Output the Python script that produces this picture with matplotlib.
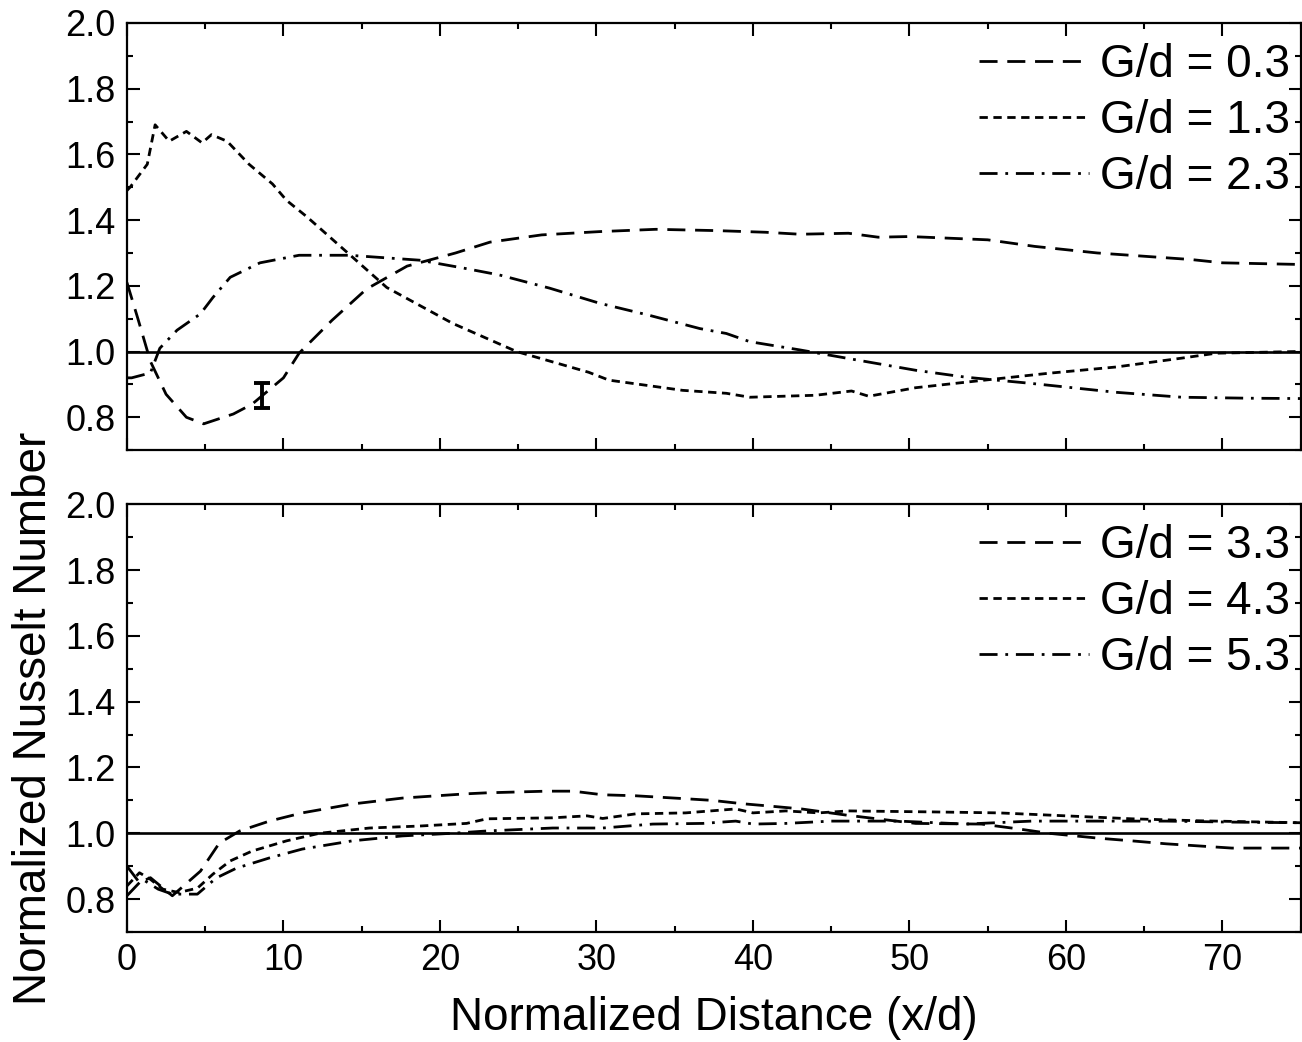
import matplotlib
matplotlib.use("Agg")
import matplotlib.pyplot as plt
from matplotlib.ticker import MultipleLocator

plt.rcParams["font.family"] = ["Liberation Sans", "DejaVu Sans"]

# top panel
x_03 = [0, 0.7, 1.5, 2.5, 3.8, 4.9, 6.8, 8.0, 10.0, 11.0, 13.1, 15.3, 17.9, 21.0, 23.2,
        26.5, 30.2, 33.8, 37.7, 40.8, 43.0, 46.1, 48.0, 50.0, 55.0, 58.0, 62.0, 65.0,
        68.0, 70.0, 75.0]
y_03 = [1.21, 1.10, 0.97, 0.87, 0.80, 0.78, 0.81, 0.84, 0.92, 0.995, 1.095, 1.19, 1.26,
        1.30, 1.333, 1.355, 1.365, 1.372, 1.368, 1.363, 1.357, 1.36, 1.348, 1.35, 1.34,
        1.32, 1.30, 1.29, 1.28, 1.27, 1.265]

x_13 = [0, 0.2, 1.3, 1.8, 2.7, 3.8, 4.8, 5.4, 6.4, 7.8, 9.3, 10.2, 11.5, 13.4, 16.6,
        20.8, 24.9, 29.5, 30.8, 35.5, 38.3, 39.8, 44.0, 46.3, 47.4, 50.4, 54.6, 58.9,
        63.2, 67.4, 69.6, 74.7, 75.0]
y_13 = [1.49, 1.50, 1.57, 1.69, 1.64, 1.67, 1.635, 1.66, 1.64, 1.57, 1.51, 1.46, 1.41,
        1.33, 1.195, 1.086, 1.0, 0.937, 0.913, 0.882, 0.873, 0.861, 0.867, 0.88, 0.864,
        0.89, 0.912, 0.934, 0.953, 0.98, 0.995, 1.0, 1.0]

x_23 = [0, 0.3, 1.5, 2.1, 3.2, 4.7, 5.5, 6.6, 8.5, 11.0, 14.2, 18.7, 21.5, 23.8, 27.0,
        30.2, 33.4, 36.6, 38.3, 39.8, 43.0, 46.8, 50.4, 53.6, 57.8, 63.2, 67.4, 71.7, 75.0]
y_23 = [0.92, 0.92, 0.935, 1.01, 1.065, 1.115, 1.165, 1.226, 1.27, 1.293, 1.293, 1.278,
        1.254, 1.233, 1.193, 1.147, 1.11, 1.07, 1.055, 1.03, 1.005, 0.973, 0.943, 0.922,
        0.903, 0.876, 0.861, 0.858, 0.857]

# bottom panel
x_33 = [0, 0.8, 1.5, 2.9, 4.7, 5.9, 7.2, 9.1, 11.2, 14.4, 17.6, 21.7, 23.0, 26.8, 28.5,
        30.4, 32.5, 35.7, 37.4, 39.3, 41.0, 43.1, 46.0, 50.4, 54.6, 57.0, 58.9, 62.1,
        64.2, 66.4, 70.6, 75.0]
y_33 = [0.90, 0.85, 0.865, 0.81, 0.885, 0.97, 1.007, 1.037, 1.062, 1.089, 1.107, 1.12,
        1.123, 1.128, 1.128, 1.117, 1.114, 1.105, 1.10, 1.09, 1.083, 1.074, 1.055, 1.03,
        1.028, 1.013, 1.0, 0.985, 0.977, 0.968, 0.955, 0.955]

x_43 = [0, 0.8, 1.5, 2.3, 3.3, 4.5, 5.5, 6.6, 8.0, 10.2, 12.3, 15.5, 18.7, 21.7, 23.0,
        27.2, 29.4, 30.4, 32.5, 35.7, 38.9, 40.0, 42.1, 44.2, 46.1, 51.4, 55.7, 60.0,
        64.2, 68.5, 75.0]
y_43 = [0.84, 0.88, 0.86, 0.83, 0.82, 0.833, 0.876, 0.916, 0.946, 0.977, 1.0, 1.016,
        1.022, 1.03, 1.044, 1.047, 1.053, 1.045, 1.059, 1.062, 1.074, 1.062, 1.068, 1.062,
        1.068, 1.065, 1.062, 1.053, 1.044, 1.038, 1.032]

x_53 = [0, 1.0, 2.0, 2.9, 4.5, 5.7, 7.0, 9.1, 11.2, 14.4, 17.6, 20.8, 23.0, 27.2, 30.4,
        33.6, 36.8, 38.9, 40.0, 42.1, 45.0, 49.3, 53.6, 57.8, 62.0, 66.4, 70.6, 75.0]
y_53 = [0.81, 0.86, 0.83, 0.815, 0.815, 0.864, 0.894, 0.925, 0.952, 0.977, 0.992, 1.0,
        1.007, 1.016, 1.016, 1.028, 1.03, 1.037, 1.028, 1.03, 1.037, 1.037, 1.028, 1.037,
        1.037, 1.037, 1.034, 1.032]

# uncertainty bar
err_x = 8.6
err_y = 0.866
err_size = 0.039

DASH = (6.5, 3.5)
DOT = (3.0, 2.0)
DASHDOT = (6.5, 2.8, 1.0, 2.8)
LW = 2.0

fig = plt.figure(figsize=(13.02, 10.42), dpi=100)
ax1 = fig.add_axes([0.0975, 0.568, 0.9015, 0.41])
ax2 = fig.add_axes([0.0975, 0.1056, 0.9015, 0.4104])

ax1.plot(x_03, y_03, color="black", lw=LW, dashes=DASH, label="G/d = 0.3")
ax1.plot(x_13, y_13, color="black", lw=LW, dashes=DOT, label="G/d = 1.3")
ax1.plot(x_23, y_23, color="black", lw=LW, dashes=DASHDOT, label="G/d = 2.3")
ax1.errorbar([err_x], [err_y], yerr=[err_size], fmt="none", ecolor="black",
             elinewidth=2.8, capsize=6, capthick=2.8)

ax2.plot(x_33, y_33, color="black", lw=LW, dashes=DASH, label="G/d = 3.3")
ax2.plot(x_43, y_43, color="black", lw=LW, dashes=DOT, label="G/d = 4.3")
ax2.plot(x_53, y_53, color="black", lw=LW, dashes=DASHDOT, label="G/d = 5.3")

for ax in (ax1, ax2):
    ax.axhline(1.0, color="black", lw=1.9)
    ax.set_xlim(0, 75)
    ax.set_ylim(0.7, 2.0)
    ax.xaxis.set_major_locator(MultipleLocator(10))
    ax.xaxis.set_minor_locator(MultipleLocator(5))
    ax.yaxis.set_major_locator(MultipleLocator(0.2))
    ax.yaxis.set_minor_locator(MultipleLocator(0.1))
    ax.yaxis.set_major_formatter(plt.FormatStrFormatter("%.1f"))
    ax.tick_params(which="both", direction="in", top=True, right=True, width=1.5,
                   labelsize=26, pad=8)
    ax.tick_params(which="major", length=9)
    ax.tick_params(which="minor", length=4.5)
    for s in ax.spines.values():
        s.set_linewidth(1.6)
    ax.legend(loc="upper right", bbox_to_anchor=(0.999, 0.975), frameon=False,
              fontsize=33, handlelength=2.4, handletextpad=0.25, labelspacing=0.26,
              borderaxespad=0.0, borderpad=0.2)

ax1.tick_params(labelbottom=False)
ax2.set_xlabel("Normalized Distance (x/d)", fontsize=33, labelpad=13)
fig.text(0.026, 0.311, "Normalized Nusselt Number", rotation=90, fontsize=33,
         ha="center", va="center")

fig.savefig("out.png", dpi=100)
